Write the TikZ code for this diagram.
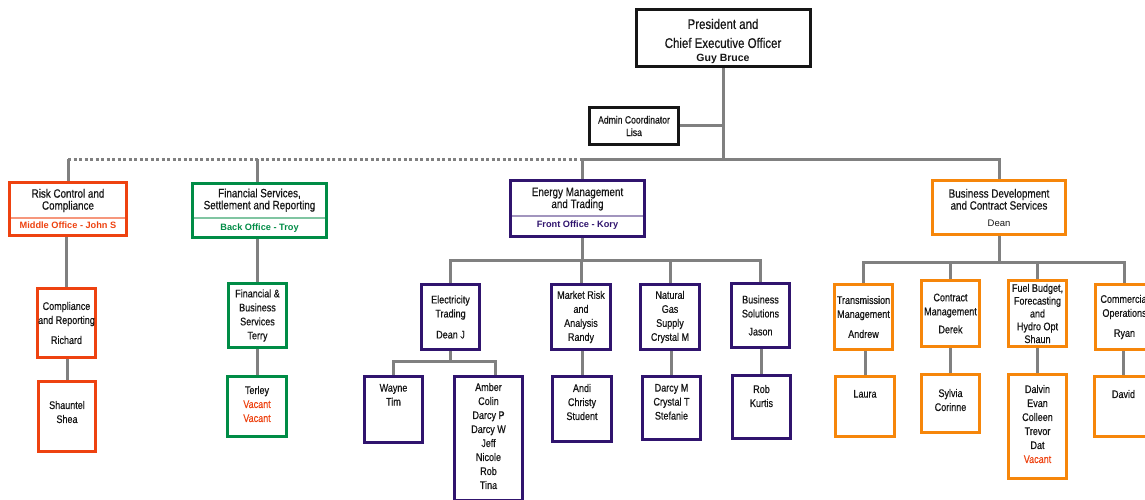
\documentclass[tikz,border=0pt]{standalone}
\usepackage{fontspec}
\setmainfont{Liberation Sans}
\newfontfamily\narrowsans{Liberation Sans}[FakeStretch=0.82,FakeBold=0.5]

\newlength{\du}
\setlength{\du}{1pt}

\definecolor{ink}{RGB}{22,22,22}
\definecolor{linkgray}{RGB}{128,128,128}
\definecolor{riskred}{RGB}{238,66,16}
\definecolor{backgreen}{RGB}{0,140,70}
\definecolor{frontpurple}{RGB}{48,20,110}
\definecolor{devorange}{RGB}{246,134,10}

\newcommand{\officeline}[2]{{\normalfont\fontsize{9.2}{12}\selectfont\bfseries\color{#1}#2}}
\newcommand{\topcell}[4]{\parbox[c][#1\du][t]{#2\du}{\centering\vspace*{#3\du}#4}}

\tikzset{
  link/.style={draw=linkgray, line width=3\du},
  bus/.style={link, line cap=rect},
  dotlink/.style={link, dash pattern=on 3\du off 2.5\du},
  split/.style={line width=1.2\du, shorten <=3\du, shorten >=3\du},
  chief/.style={draw=ink, line width=3\du, fill=white, inner sep=0, align=center, text=ink},
  head/.style={chief, font=\narrowsans\fontsize{12}{12}\selectfont},
  unit/.style={chief, font=\narrowsans\fontsize{11}{14}\selectfont}
}

\begin{document}
\begin{tikzpicture}
\pgftransformxscale{1.000000}
\pgftransformyscale{-1.000000}
\useasboundingbox (0\du,0\du) rectangle (1145\du,500\du);
\clip (0\du,0\du) rectangle (1145\du,500\du);

% top
\node[chief, font=\narrowsans\fontsize{14}{14}\selectfont] (ceo) at (723\du,38\du)
  {\topcell{57}{174}{9.3}{President and\\[5\du]Chief Executive Officer\\{\normalfont\fontsize{10.5}{14}\selectfont\bfseries Guy Bruce}}};
\node[chief, minimum width=89\du, minimum height=37\du, font=\narrowsans\fontsize{10.5}{12.5}\selectfont] (admin) at (634\du,126\du) {Admin Coordinator\\Lisa};

% offices
\node[head, draw=riskred, minimum width=117\du, minimum height=53\du] (risk) at (68\du,209\du)
  {Risk Control and\\Compliance\\[7.3\du]\officeline{riskred}{Middle Office - John S}};
\draw[split, draw=riskred!55] (risk.west |- 0,218\du) -- (risk.east |- 0,218\du);
\node[head, draw=backgreen, minimum width=134\du, minimum height=54\du] (finance) at (259.5\du,210.5\du)
  {Financial Services,\\Settlement and Reporting\\[9.3\du]\officeline{backgreen}{Back Office - Troy}};
\draw[split, draw=backgreen!50] (finance.west |- 0,218\du) -- (finance.east |- 0,218\du);
\node[head, draw=frontpurple, minimum width=134\du, minimum height=56\du] (energy) at (577.5\du,208.5\du)
  {Energy Management\\and Trading\\[7.3\du]\officeline{frontpurple}{Front Office - Kory}};
\draw[split, draw=frontpurple!45] (energy.west |- 0,216\du) -- (energy.east |- 0,216\du);
\node[head, draw=devorange, minimum width=133\du, minimum height=54\du] (bizdev) at (999\du,207.5\du)
  {Business Development\\and Contract Services\\[4.4\du]{\normalfont\fontsize{9.5}{12}\selectfont Dean}};

% groups
\node[unit, draw=riskred, minimum width=58\du, minimum height=69\du] (compl) at (66.5\du,323\du) {Compliance\\and Reporting\\[6\du]Richard};
\node[unit, draw=backgreen, minimum width=58\du, minimum height=64\du] (finbus) at (257.5\du,315.5\du) {Financial \&\\Business\\Services\\Terry};
\node[unit, draw=frontpurple, minimum width=58\du, minimum height=65\du] (elec) at (450.5\du,317\du) {Electricity\\Trading\\[7\du]Dean J};
\node[unit, draw=frontpurple, minimum width=59\du, minimum height=65\du] (market) at (581\du,317\du) {Market Risk\\and\\Analysis\\Randy};
\node[unit, draw=frontpurple, minimum width=59\du, minimum height=65\du] (gas) at (670\du,317\du) {Natural\\Gas\\Supply\\Crystal M};
\node[unit, draw=frontpurple, minimum width=58\du, minimum height=64\du] (bizsol) at (760.5\du,315.5\du) {Business\\Solutions\\[4\du]Jason};
\node[unit, draw=devorange, minimum width=58\du, minimum height=65\du] (trans) at (863.5\du,317\du) {Transmission\\Management\\[6\du]Andrew};
\node[unit, draw=devorange, minimum width=58\du, minimum height=66\du] (contract) at (950.5\du,313.5\du) {Contract\\Management\\[4\du]Derek};
\node[unit, draw=devorange, minimum width=58\du, minimum height=66\du, font=\narrowsans\fontsize{11}{12.8}\selectfont] (fuel) at (1037.5\du,313.5\du) {Fuel Budget,\\Forecasting\\and\\Hydro Opt\\Shaun};
\node[unit, draw=devorange, minimum width=58\du, minimum height=65\du] (commerc) at (1124.5\du,317\du) {Commercial\\Operations\\[6\du]Ryan};

% staff
\node[unit, draw=riskred] (shauntel) at (67\du,416.5\du) {\topcell{70}{57}{19.5}{Shauntel\\Shea}};
\node[unit, draw=backgreen] (terley) at (257\du,406.5\du) {\topcell{60}{59}{9.5}{Terley\\{\color{riskred}Vacant}\\{\color{riskred}Vacant}}};
\node[unit, draw=frontpurple] (wayne) at (393.5\du,409.5\du) {\topcell{66}{58}{7.5}{Wayne\\Tim}};
\node[unit, draw=frontpurple] (amber) at (488.5\du,438.5\du) {\topcell{124}{68}{6.5}{Amber\\Colin\\Darcy P\\Darcy W\\Jeff\\Nicole\\Rob\\Tina}};
\node[unit, draw=frontpurple] (andi) at (582\du,409\du) {\topcell{65}{59}{7.5}{Andi\\Christy\\Student}};
\node[unit, draw=frontpurple] (darcym) at (671.5\du,408\du) {\topcell{63}{58}{7.5}{Darcy M\\Crystal T\\Stefanie}};
\node[unit, draw=frontpurple] (rob) at (761.5\du,407\du) {\topcell{63}{58}{9.5}{Rob\\Kurtis}};
\node[unit, draw=devorange] (laura) at (865\du,406.5\du) {\topcell{60}{59}{13.5}{Laura}};
\node[unit, draw=devorange] (sylvia) at (950.5\du,403.5\du) {\topcell{58}{58}{14.5}{Sylvia\\Corinne}};
\node[unit, draw=devorange] (dalvin) at (1037.5\du,426.5\du) {\topcell{104}{58}{10.5}{Dalvin\\Evan\\Colleen\\Trevor\\Dat\\{\color{riskred}Vacant}}};
\node[unit, draw=devorange] (david) at (1123.5\du,406.5\du) {\topcell{60}{58}{13.5}{David}};

% connectors
\coordinate (hub) at (723\du,159\du);
\coordinate (tradebus) at (582\du,260\du);
\coordinate (elecbus) at (450\du,361\du);
\coordinate (devbus) at (997\du,262\du);
\coordinate (amberjoin) at ([xshift=6.5\du]amber.north);

\draw[link] (ceo.south) -- (hub);
\draw[link] (admin.east) -- (admin.east -| hub);
\draw[link] (energy.north -| tradebus) -- (tradebus |- hub) -- (bizdev.north |- hub) -- (bizdev.north);
\draw[dotlink] (risk.north |- hub) -- (tradebus |- hub);
\draw[link] (risk.north) -- (risk.north |- hub);
\draw[link] (finbus |- finance.north) -- (finbus |- hub);

\draw[link] (energy.south -| tradebus) -- (tradebus);
\draw[bus] (elec.north |- tradebus) -- (bizsol.north |- tradebus);
\foreach \c in {elec,market,gas,bizsol}
  \draw[link] (\c.north) -- (\c.north |- tradebus);

\draw[link] (elec.south) -- (elec.south |- elecbus);
\draw[bus] (wayne.north |- elecbus) -- (amberjoin |- elecbus);
\draw[link] (wayne.north) -- (wayne.north |- elecbus);
\draw[link] (amberjoin) -- (amberjoin |- elecbus);

\draw[link] (bizdev.south) -- (bizdev.south |- devbus);
\draw[bus] (trans.north |- devbus) -- (commerc.north |- devbus);
\foreach \c in {trans,contract,fuel,commerc}
  \draw[link] (\c.north) -- (\c.north |- devbus);

\foreach \p/\c in {risk/compl, compl/shauntel, finance/finbus, finbus/terley, market/andi, gas/darcym,
                   bizsol/rob, trans/laura, contract/sylvia, fuel/dalvin, commerc/david}
  \draw[link] (\c.north) -- (\c.north |- \p.south);
\end{tikzpicture}
\end{document}
